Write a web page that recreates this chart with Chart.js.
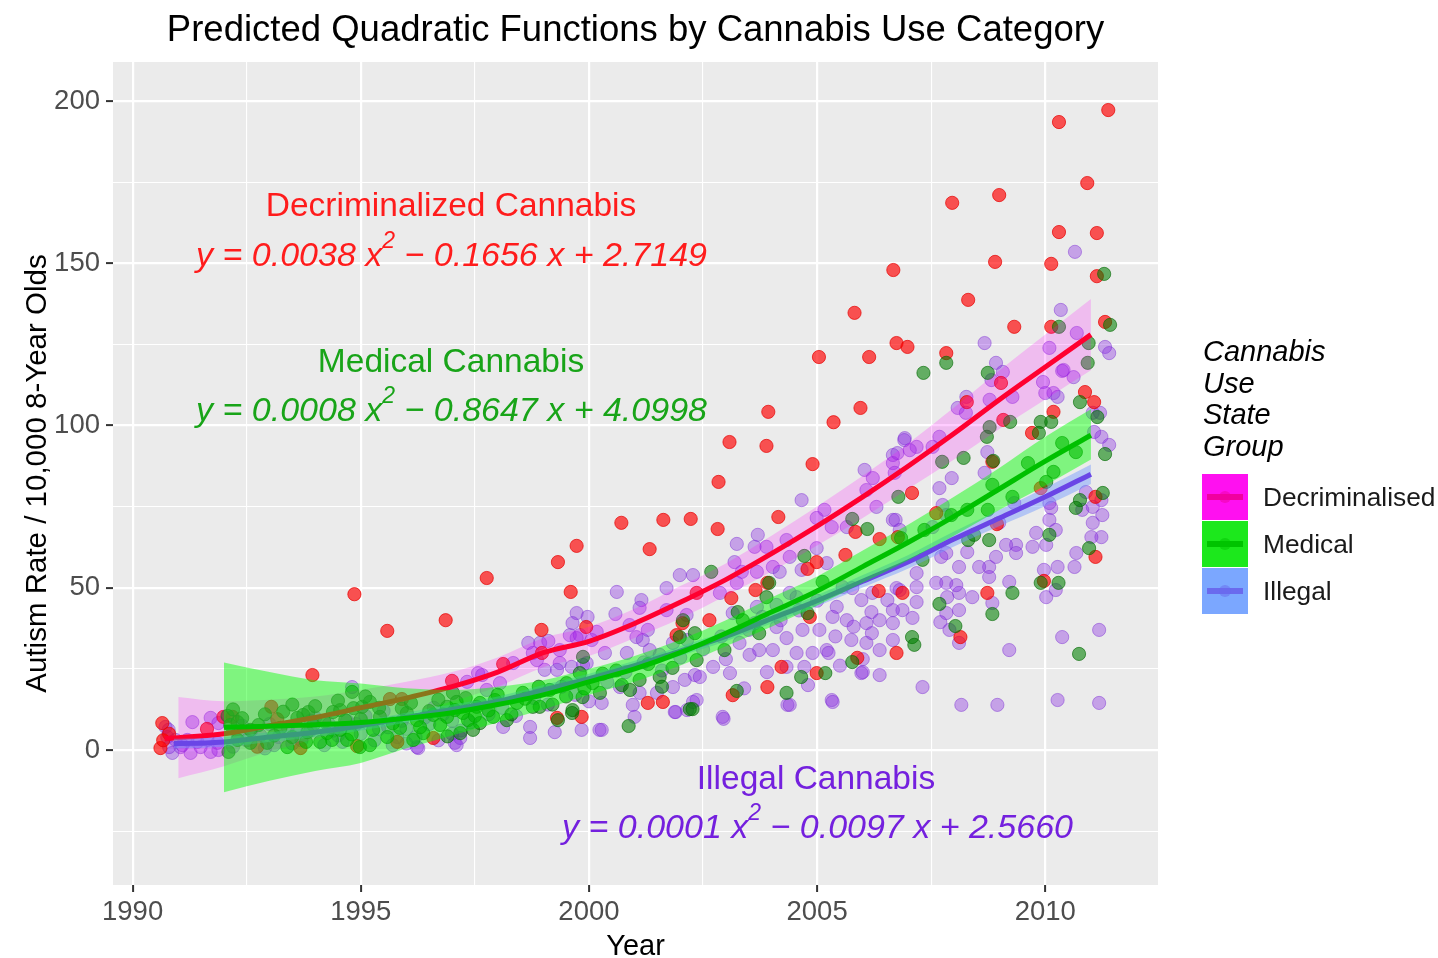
<!DOCTYPE html>
<html><head><meta charset="utf-8">
<script src="https://cdn.jsdelivr.net/npm/chart.js@4.4.1/dist/chart.umd.min.js"></script>
<style>html,body{margin:0;padding:0;background:#fff;}canvas{display:block}</style>
</head><body>
<canvas id="c" width="1438" height="958"></canvas>
<script>
// ---------- data ----------
const decrimYears = [2011.38,2010.30,2010.92,2007.96,2008.99,2010.30,2011.13,2008.90,2010.13,2006.67,2011.13,2008.31,2005.82,2009.32,2010.13,2011.31,2006.74,2006.98,2007.83,2005.04,2006.14,2009.03,2008.28,2010.87,2011.07,2010.18,2009.08,2009.71,2003.93,2005.95,2005.36,2003.08,2003.89,2004.90,2002.84,2002.23,2002.82,2004.15,2005.62,2006.37,2005.84,2004.99,2004.79,2003.91,2003.65,2003.12,2002.36,2002.64,2002.05,2004.84,2006.35,2006.74,2005.88,2004.22,2004.99,2003.91,2003.15,2000.71,2001.63,1999.73,2001.33,1999.32,1997.76,1999.60,1996.86,1998.96,1999.94,1998.97,1998.12,1997.00,2001.62,2001.29,1999.30,1999.84,2001.92,1994.86,1995.58,1993.94,1990.65,1990.61,1990.67,1991.63,1991.99,1993.04,1993.17,1995.64,1995.90,1993.68,1995.80,1996.59,1992.73,1994.92,1992.19,2008.84,2007.08,2007.61,2009.90,2011.10,2006.77,2006.87,2008.73,2009.97,2011.10,2008.14,2008.94,1990.80];
const decrimRates = [197.2,193.5,174.7,168.6,171.0,159.6,159.3,150.4,149.8,147.9,146.0,138.7,134.7,130.4,130.4,131.9,125.4,124.2,122.3,121.1,121.1,113.1,107.2,110.3,107.2,104.2,101.7,97.7,104.2,105.4,101.0,94.9,93.7,88.1,82.6,71.2,68.1,71.8,60.1,65.0,67.2,57.9,55.8,51.5,49.3,46.8,48.4,40.0,39.1,41.0,49.0,29.9,28.4,25.6,23.7,19.4,16.9,70.0,70.9,62.9,61.9,57.9,53.0,48.7,40.0,37.0,37.9,29.9,26.5,21.3,14.8,14.5,9.9,10.2,35.4,48.0,36.7,23.1,8.3,0.6,3.0,6.5,10.2,13.3,9.5,15.7,15.7,0.6,2.5,3.7,1.0,1.2,10.2,88.8,79.2,73.0,80.7,78.0,65.6,48.4,48.4,52.1,59.5,34.8,69.6,5.0];

const medicalYears = [2011.29,2010.30,2011.42,2007.83,2007.33,2008.74,2010.95,2010.93,2010.76,2009.23,2009.90,2010.13,2009.86,2008.78,2008.72,2011.14,2011.31,2010.67,2010.37,2009.62,2010.18,2010.02,2008.21,2008.86,2007.74,2006.78,2008.84,2009.28,2010.76,2011.26,2008.74,2008.29,2007.94,2007.35,2006.84,2008.31,2008.77,2007.31,2010.09,2010.96,2009.28,2008.84,2007.68,2008.03,2007.08,2007.13,2009.90,2010.29,2010.74,2010.67,2008.44,2002.68,2005.77,2006.10,2003.95,2003.89,2004.72,2005.12,2004.79,2003.26,2003.37,2002.32,2002.06,2005.77,2005.18,2004.65,2004.33,2003.24,2002.21,2002.97,2003.73,2000.87,2002.27,2001.99,1999.63,1999.32,1998.20,1997.61,2000.72,2000.24,1999.80,1998.92,1998.55,1999.87,2001.83,2002.36,2001.11,2001.55,1997.94,1997.02,1996.89,1997.24,1997.61,1997.90,1998.42,1998.77,1999.14,1999.51,1999.64,1999.86,2000.08,1994.81,1992.08,1992.14,1992.30,1992.10,1992.58,1992.76,1993.24,1993.61,1993.74,1993.85,1993.96,1994.26,1994.39,1994.55,1994.66,1994.84,1995.03,1995.20,1995.27,1995.42,1995.58,1996.01,1996.23,1996.37,1996.74,1996.89,1997.18,1997.35,1997.46,1994.37,1994.70,1994.98,1995.20,1993.39,1992.95,1992.58,1992.30,1993.50,1993.83,1994.11,1994.55,1995.86,1996.15,1996.59,1997.06,1997.54,
  1992.2,1992.4,1992.9,1993.1,1993.3,1993.5,1993.8,1994.0,1994.2,1994.5,1994.8,1995.0,1995.1,1995.4,1995.7,1995.9,1996.1,1996.3,1996.5,1996.7,1996.9,1997.1,1997.3,1997.5,1997.8,1998.0,1998.3,1998.6,1998.9,1999.2,1999.5,1999.9,2000.3,2000.6,2000.9,2001.3,2001.6];
const medicalRates = [146.7,130.4,131.0,119.3,116.2,116.2,125.4,119.3,107.2,101.1,101.1,101.1,97.7,99.5,96.5,102.6,91.2,91.8,94.6,88.4,85.7,82.6,90.0,89.1,88.8,78.0,81.7,78.0,77.0,79.2,74.0,74.0,72.4,67.8,65.3,64.7,64.7,58.6,66.3,62.2,48.4,41.9,45.0,38.2,34.8,32.4,51.5,51.5,29.6,74.6,66.3,54.9,71.2,68.1,51.5,47.1,59.8,51.8,42.2,42.5,40.0,36.0,40.0,27.1,23.7,22.5,17.6,18.2,12.6,30.8,36.0,7.4,12.6,34.8,11.4,9.2,9.2,8.3,20.0,17.6,23.7,13.3,17.6,28.7,25.3,27.7,21.6,22.5,15.4,17.6,13.3,11.4,14.5,10.2,14.5,13.3,18.5,20.6,12.3,16.3,20.6,17.9,10.5,7.7,8.6,-0.6,6.2,7.7,6.8,9.9,10.8,11.7,7.7,5.2,11.7,12.3,9.2,12.9,13.3,14.8,6.2,10.2,4.0,11.4,9.2,5.2,7.7,10.2,5.2,9.2,6.2,3.1,3.1,0.9,1.5,0.9,2.2,2.2,3.1,4.0,5.5,2.5,6.2,6.8,3.1,10.8,12.3,13.3,
  12.5,9.8,11.0,4.5,11.8,14.0,2.5,13.5,8.8,15.2,4.8,9.5,16.5,13.0,8.2,12.8,14.5,7.0,12.0,15.5,4.2,14.8,16.0,10.5,12.2,17.0,11.0,15.8,19.5,14.0,16.5,19.0,23.5,24.5,18.5,26.5,19.5];

const illegalYears = [1991.31,1991.71,1991.88,1990.72,1990.76,1990.87,1991.27,1991.71,1991.88,1991.05,1991.49,1990.94,1991.20,1991.42,1991.64,1991.86,1991.09,1990.80,1990.79,1992.2,1992.5,1992.9,1993.2,1993.5,1993.9,1994.2,1994.5,1994.9,1995.3,1995.6,1995.9,1996.2,1996.5,1996.8,1997.2,1993.0,1994.0,1995.0,1996.0,1992.6,1993.7,1994.7,1995.5,1996.6,1997.0,1992.3,1993.4,1994.3,1995.8,1996.23,1997.06,1997.18,1997.33,1997.57,1994.81,1997.66,1998.34,1998.67,1998.93,1999.11,1998.77,1999.73,1999.97,1999.64,1999.58,1999.80,1999.36,1998.71,1998.71,1999.25,1999.84,2000.23,1998.12,1997.10,1996.26,1997.76,1998.05,1999.03,1999.36,1999.95,2001.99,2002.28,2001.70,2000.61,2001.15,2001.11,2000.58,2000.89,2001.29,2001.70,2002.14,2000.17,1999.73,2000.06,2001.04,2001.18,2001.33,2001.55,2001.84,2002.15,2000.83,2000.35,1998.86,1999.30,1999.62,1999.87,2002.32,2002.10,2001.84,2001.49,2001.11,2000.96,2000.28,2001.90,2002.28,2001.00,2000.28,2000.68,2004.66,2006.04,2006.22,2006.08,2006.66,2006.66,2006.30,2005.16,2004.99,2005.32,2005.65,2006.66,2003.70,2003.24,2003.63,2003.89,2004.33,2003.19,2003.35,2003.68,2004.03,2004.18,2004.40,2004.66,2004.99,2005.21,2002.87,2003.24,2003.15,2003.68,2004.11,2004.55,2005.43,2005.97,2006.19,2006.54,2006.74,2005.34,2005.65,2006.08,2006.37,2006.66,2005.05,2004.33,2004.68,2004.11,2003.73,2004.03,2003.52,2004.55,2004.90,2005.21,2005.75,2006.08,2006.37,2006.66,2004.33,2004.72,2002.72,2003.09,2002.43,2002.36,2005.97,2006.37,2005.32,2004.35,2002.93,2003.63,2005.56,2005.77,2006.21,2004.40,2002.15,2010.34,2010.69,2008.67,2010.09,2011.31,2011.40,2008.92,2009.07,2008.82,2010.37,2010.62,2009.95,2010.18,2010.27,2011.04,2011.20,2011.23,2011.40,2011.07,2009.28,2008.27,2008.08,2008.26,2008.78,2007.68,2007.53,2007.18,2007.03,2006.92,2006.76,2006.70,2008.73,2008.67,2007.95,2007.68,2006.72,2007.75,2007.83,2009.32,2008.99,2010.09,2009.80,2010.23,2010.09,2009.72,2010.02,2009.36,2009.14,2009.36,2008.92,2008.77,2008.77,2008.55,2008.11,2007.83,2008.29,2007.72,2008.40,2008.11,2007.85,2007.61,2007.83,2008.05,2007.18,2007.18,2006.81,2007.18,2006.87,2006.66,2007.09,2007.83,2008.11,2007.90,2007.70,2008.84,2009.21,2010.02,2010.23,2009.97,2010.27,2010.68,2010.64,2010.89,2011.04,2011.23,2011.25,2011.04,2011.23,2011.01,2010.81,2010.13,2007.53,2006.81,2009.21,2010.37,2011.18,2007.31,2008.16,2008.95,2010.27,2011.18,2008.11,2002.95,2001.88,2004.40,2005.34,2006.00,2005.25,2010.65,2010.40,2006.91,2010.00,
  1992.4,1992.8,1993.1,1993.6,1993.9,1994.4,1994.6,1995.1,1995.4,1995.7,1996.0,1996.4,1996.7,1997.0,1997.4,1997.8,1998.1,1998.4,1998.8,1999.1,1999.4,1999.7,2000.0,2000.4,2000.8,2001.2,2001.6,2002.0,2002.5,2002.9,2003.3,2003.0,2003.5,2003.8,2004.2,2004.6,2005.0,2005.4,2005.8,2006.2,2003.4,2003.9,2004.8,2005.5,2006.0];
const illegalRates = [8.6,9.9,8.3,7.1,4.0,-0.9,-0.9,-0.6,0.0,0.9,0.9,3.1,3.1,2.5,3.1,2.2,1.5,0.9,6.2,1,3,0.5,4,2,6,1.5,4.5,8,3,7,9,4,8,11,6,8,10,5,2,6,3,9,12,13,9,5,7,8,4,0.9,2.2,3.7,21.0,23.7,19.4,23.1,26.8,33.0,33.0,33.6,29.9,42.2,41.0,39.1,35.4,35.4,30.8,7.1,3.7,5.5,6.2,6.2,7.1,1.5,0.6,18.5,20.6,24.7,26.8,26.8,53.9,53.9,49.9,48.7,46.2,43.8,41.9,38.5,37.0,43.1,41.6,36.4,34.5,33.9,34.8,33.9,30.8,29.3,33.0,33.9,29.9,29.9,27.7,24.7,25.6,26.2,23.1,21.6,19.4,17.6,17.6,13.9,14.5,11.7,14.8,10.2,6.2,19.4,77.0,86.3,83.8,80.1,90.9,88.4,74.9,74.0,71.5,68.7,68.7,70.9,66.3,63.5,62.6,62.6,64.7,57.9,54.9,54.9,56.4,54.9,59.5,55.5,62.2,57.6,48.4,51.5,42.2,44.1,44.7,47.1,44.1,46.2,42.5,46.2,49.9,41.0,40.0,39.1,40.0,39.1,37.0,34.5,37.0,37.9,30.8,30.8,29.3,29.9,29.9,30.8,33.9,33.0,30.8,33.9,25.6,25.6,25.6,23.7,22.5,15.4,23.7,23.1,15.4,13.9,10.2,39.1,50.2,49.9,48.4,48.4,12.3,135.6,128.5,125.4,123.9,124.2,122.3,119.3,116.5,114.0,116.8,114.9,113.4,110.0,108.8,103.9,103.9,96.5,94.0,98.0,108.8,108.8,105.4,103.9,107.9,96.5,93.4,93.4,92.4,96.1,91.5,85.4,91.8,85.4,83.8,80.7,70.9,75.5,72.4,76.1,70.0,76.1,66.9,67.8,70.9,62.6,63.2,63.2,63.2,60.7,59.5,56.4,53.3,56.4,56.4,60.7,61.0,59.5,47.1,48.4,47.1,51.5,51.5,50.8,54.5,50.2,49.3,45.6,43.1,43.1,40.7,42.2,43.1,37.0,39.4,45.3,51.8,47.1,49.3,55.5,56.4,60.7,56.4,79.5,74.9,77.0,72.4,70.0,65.6,65.6,74.0,74.6,68.7,67.8,30.8,34.8,37.0,19.4,13.9,13.9,15.4,14.5,33.0,9.6,11.7,13.9,14.8,24.0,29.9,153.5,117.1,95.5,110.0,
  7.5,4.5,1.5,5.5,9,6,2.5,10.5,6.5,1.5,6.5,10,3,5,8.5,11,13,10.5,16,14,19.5,17,15,21,24,27,24.5,28.5,31,35,33,28,37,41,40,43,46,35,38,36,19,24,20,26,28];

// fitted curves and confidence bands
const decrimFitYears = [1990.7,1991,1992,1993,1994,1995,1996,1997,1998,1999,2000,2001,2002,2003,2004,2005,2006,2007,2008,2009,2010,2011];
const decrimFit   = [3.5,3.8,5,7.5,10,13,16,19.5,24,30,33.5,39,45.5,52.5,60.5,69,78,87.5,97.5,108,118,128];
const decrimBandYears = [1991,1992,1993,1994,1995,1996,1997,1998,1999,2000,2001,2002,2003,2004,2005,2006,2007,2008,2009,2010,2011];
const decrimUpper = [16.3,15,15.5,16.5,18.5,21,24,28.5,34.5,38,43.5,50.5,57.5,66,75,84.5,94.5,105.5,117,128,139];
const decrimLower = [-8.7,-5,-0.5,3.5,7.5,11,15,19.5,25.5,29,34.5,40.5,47.5,55,63,71.5,80.5,89.5,99,108,117];

const medicalFitYears = [1992,1993,1994,1995,1996,1997,1998,1999,2000,2001,2002,2003,2004,2005,2006,2007,2008,2009,2010,2011];
const medicalFit   = [7,7.3,7.8,8.5,9.8,11.5,14,17,21,25,30,36,42.5,49,56.5,64,72,80.5,89,97];
const medicalUpper = [27,24,21.5,20.5,19,18.5,19.5,21.5,25,29,34,40,47,53.5,61.5,69.5,78,87,96.5,105];
const medicalLower = [-13,-9.5,-6.5,-4,0.5,4.5,8.5,12.5,17,21,26,32,38,44.5,51.5,58.5,66,74,81.5,89.5];

const illegalFitYears = [1990.9,1991,1992,1993,1994,1995,1996,1997,1998,1999,2000,2001,2002,2003,2004,2005,2006,2007,2008,2009,2010,2011];
const illegalFit   = [2,2,2.5,4,5.5,7.5,10,12.5,15,18.5,22,26,30.5,35,40.5,46,52,58,65,71.5,78,85];
const illegalUpper = [3.5,3.5,4,5.5,7,9,11.5,14,16.5,20,23.5,27.5,32,36.5,42,47.7,53.9,60.1,67.3,74,80.8,88];
const illegalLower = [0.5,0.5,1,2.5,4,6,8.5,11,13.5,17,20.5,24.5,29,33.5,39,44.3,50.1,55.9,62.7,69,75.2,82];

const groupLabels = ['Decriminalised','Medical','Illegal'];
const legendTitleLines = ['Cannabis','Use','State','Group'];
const yTickValues = [0,50,100,150,200];
const xTickValues = [1990,1995,2000,2005,2010];

// ---------- helpers ----------
const FONT = '"Liberation Sans", Arial, Helvetica, sans-serif';
Chart.defaults.font.family = FONT;
const pts = (xs, ys) => xs.map((x, i) => ({x, y: ys[i]}));

function scatterSet(xs, ys, fill, border, order) {
  return {type:'scatter', data: pts(xs, ys), backgroundColor: fill, borderColor: border,
    pointRadius: 6.6, pointBorderWidth: 1, pointHoverRadius: 6.6, order};
}
function lineSet(xs, ys, color, width, order, fillOpt, fillColor) {
  return {type:'line', data: pts(xs, ys), borderColor: color, borderWidth: width,
    pointRadius: 0, showLine: true, cubicInterpolationMode: 'monotone',
    fill: fillOpt || false, backgroundColor: fillColor || 'rgba(0,0,0,0)', order};
}

const datasets = [
  scatterSet(illegalYears, illegalRates, 'rgba(138,43,226,0.38)', 'rgba(120,40,210,0.45)', 100),
  scatterSet(decrimYears, decrimRates, 'rgba(255,0,0,0.66)', 'rgba(230,0,0,0.7)', 90),
  scatterSet(medicalYears, medicalRates, 'rgba(0,128,0,0.58)', 'rgba(0,105,0,0.62)', 80),
  lineSet(decrimBandYears, decrimUpper, 'rgba(0,0,0,0)', 0, 70, '+1', 'rgba(255,0,255,0.2)'),
  lineSet(decrimBandYears, decrimLower, 'rgba(0,0,0,0)', 0, 69),
  lineSet(decrimFitYears, decrimFit, '#FF0030', 5, 60),
  lineSet(illegalFitYears, illegalUpper, 'rgba(0,0,0,0)', 0, 50, '+1', 'rgba(110,150,255,0.45)'),
  lineSet(illegalFitYears, illegalLower, 'rgba(0,0,0,0)', 0, 49),
  lineSet(illegalFitYears, illegalFit, '#6A45E6', 5, 40),
  lineSet(medicalFitYears, medicalUpper, 'rgba(0,0,0,0)', 0, 30, '+1', 'rgba(0,255,0,0.46)'),
  lineSet(medicalFitYears, medicalLower, 'rgba(0,0,0,0)', 0, 29),
  lineSet(medicalFitYears, medicalFit, '#00C000', 5, 20),
];

const panelBg = {
  id: 'panelBg',
  beforeDraw(chart) {
    const {ctx, chartArea: a} = chart;
    ctx.save(); ctx.fillStyle = '#EBEBEB';
    ctx.fillRect(a.left, a.top, a.right - a.left, a.bottom - a.top);
    ctx.restore();
  }
};

function drawEq(ctx, parts, cx, cy, color, size) {
  const main = 'italic ' + size + 'px ' + FONT;
  const sup = 'italic ' + Math.round(size * 0.68) + 'px ' + FONT;
  let total = 0;
  parts.forEach(p => { ctx.font = p.sup ? sup : main; p.w = ctx.measureText(p.t).width; total += p.w; });
  let x = cx - total / 2;
  ctx.fillStyle = color; ctx.textBaseline = 'middle'; ctx.textAlign = 'left';
  parts.forEach(p => {
    ctx.font = p.sup ? sup : main;
    ctx.fillText(p.t, x, p.sup ? cy - size * 0.45 : cy);
    x += p.w;
  });
}

const annotations = {
  id: 'annotations',
  afterDatasetsDraw(chart) {
    const ctx = chart.ctx;
    ctx.save();
    ctx.textAlign = 'center'; ctx.textBaseline = 'middle';
    ctx.font = '33.5px ' + FONT;
    ctx.fillStyle = '#FF1C1C'; ctx.fillText('Decriminalized Cannabis', 451, 207);
    ctx.fillStyle = '#18A418'; ctx.fillText('Medical Cannabis', 451, 363);
    ctx.fillStyle = '#7420DE'; ctx.fillText('Illegal Cannabis', 816, 780);
    drawEq(ctx, [{t:'y = 0.0038 x'},{t:'2',sup:true},{t:' \u2212 0.1656 x + 2.7149'}], 451.5, 257, '#FF1C1C', 34);
    drawEq(ctx, [{t:'y = 0.0008 x'},{t:'2',sup:true},{t:' \u2212 0.8647 x + 4.0998'}], 451.5, 412, '#18A418', 34);
    drawEq(ctx, [{t:'y = 0.0001 x'},{t:'2',sup:true},{t:' \u2212 0.0097 x + 2.5660'}], 817.5, 829, '#7420DE', 34);
    ctx.restore();
  },
  afterDraw(chart) {
    const ctx = chart.ctx, a = chart.chartArea;
    ctx.save();
    ctx.fillStyle = '#000'; ctx.font = '36.5px ' + FONT;
    ctx.textAlign = 'center'; ctx.textBaseline = 'middle';
    ctx.fillText('Predicted Quadratic Functions by Cannabis Use Category', (a.left + a.right) / 2, 31);
    ctx.textAlign = 'left';
    ctx.font = 'italic 29px ' + FONT;
    legendTitleLines.forEach((t, i) => ctx.fillText(t, 1203, 353 + i * 31.7));
    const fills = ['#FF10F0', '#1CE81C', '#7BA7FF'];
    const lines = ['#F000A0', '#00C400', '#6A6AEE'];
    groupLabels.forEach((lab, i) => {
      const y0 = 474 + i * 47;
      ctx.fillStyle = fills[i];
      ctx.fillRect(1202, y0, 46, 46);
      ctx.strokeStyle = lines[i]; ctx.lineWidth = 6; ctx.lineCap = 'butt';
      ctx.beginPath(); ctx.moveTo(1207, y0 + 23); ctx.lineTo(1243, y0 + 23); ctx.stroke();
      ctx.globalAlpha = 0.5; ctx.fillStyle = lines[i];
      ctx.beginPath(); ctx.arc(1225, y0 + 23, 6, 0, Math.PI * 2); ctx.fill();
      ctx.globalAlpha = 1;
      ctx.fillStyle = '#1A1A1A'; ctx.font = '26.3px ' + FONT; ctx.textBaseline = 'middle';
      ctx.fillText(lab, 1263, y0 + 25);
    });
    ctx.restore();
  }
};

const isMajor = (v, step) => Math.abs(v / step - Math.round(v / step)) < 1e-6;

new Chart(document.getElementById('c'), {
  data: {datasets},
  options: {
    responsive: false, animation: false, devicePixelRatio: 1,
    layout: {padding: {top: 62, right: 280, left: 0, bottom: 0}},
    plugins: {legend: {display: false}, tooltip: {enabled: false}, title: {display: false}},
    events: [],
    scales: {
      x: {
        type: 'linear', min: 1989.57, max: 2012.47,
        afterFit(s) { s.height = 73; },
        border: {display: false},
        grid: {
          color: '#FFFFFF',
          lineWidth: c => (c.tick && isMajor(c.tick.value, 5)) ? 2.2 : 1.1,
          tickLength: 7, tickWidth: 2,
          tickColor: c => (c.tick && isMajor(c.tick.value, 5)) ? '#333333' : 'rgba(0,0,0,0)'
        },
        ticks: {
          stepSize: 2.5, includeBounds: false, autoSkip: false, maxRotation: 0, minRotation: 0,
          padding: 4, color: '#4D4D4D', font: {size: 27.5},
          callback: v => xTickValues.includes(v) ? String(v) : ''
        },
        title: {display: true, text: 'Year', color: '#000', font: {size: 29, lineHeight: 1}, padding: {top: 0, bottom: -3}}
      },
      y: {
        type: 'linear', min: -41.6, max: 212,
        afterFit(s) { s.width = 113; },
        border: {display: false},
        grid: {
          color: '#FFFFFF',
          lineWidth: c => (c.tick && isMajor(c.tick.value, 50)) ? 2.2 : 1.1,
          tickLength: 7, tickWidth: 2,
          tickColor: c => (c.tick && isMajor(c.tick.value, 50)) ? '#333333' : 'rgba(0,0,0,0)'
        },
        ticks: {
          stepSize: 25, includeBounds: false, autoSkip: false,
          padding: 6, color: '#4D4D4D', font: {size: 27.5},
          callback: v => yTickValues.includes(v) ? String(v) : ''
        },
        title: {display: true, text: 'Autism Rate / 10,000 8-Year Olds', color: '#000', font: {size: 29.5, lineHeight: 1.2}, padding: {top: 20, bottom: 0}}
      }
    }
  },
  plugins: [panelBg, annotations]
});
</script>
</body></html>
